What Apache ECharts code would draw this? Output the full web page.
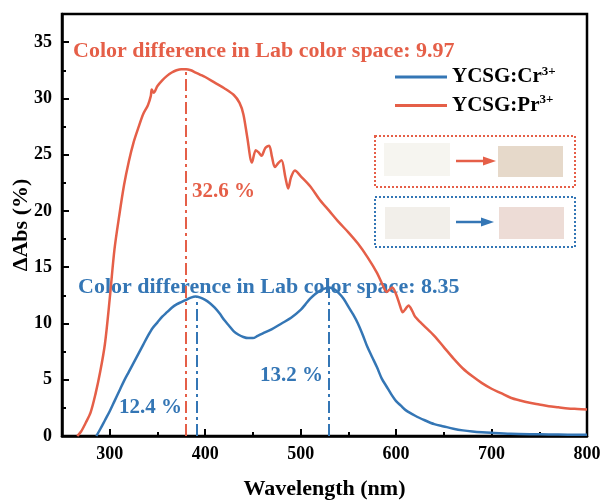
<!DOCTYPE html>
<html><head><meta charset="utf-8">
<script src="https://cdn.jsdelivr.net/npm/echarts@6/dist/echarts.min.js"></script>
<style>html,body{margin:0;padding:0;background:#fff}#c{width:603px;height:503px}</style>
</head><body><div id="c"></div>
<script>
// ---- data ----
const prWavelength = [266,270,275,280,285,290,295,300,305,310,315,320,325,330,335,340,343,344,346,350,355,360,365,370,375,380,385,390,395,400,410,420,430,436,440,444,449,453,456,459,463,467,470,473,477,480,484,487,490,494,500,510,520,530,540,550,560,570,580,586,590,593,596,600,604,607,610,613,617,620,628,640,650,660,670,680,690,700,710,720,730,740,750,760,770,780,790,800];
const prDeltaAbs   = [0,0.4,1.2,2.1,3.7,5.7,8.2,12.2,16.6,19.6,22.3,24.4,26.1,27.4,28.6,29.4,30.2,30.8,30.5,31.1,31.6,32.0,32.3,32.5,32.6,32.6,32.5,32.3,32.1,31.9,31.4,30.9,30.3,29.6,28.6,26.6,24.3,25.4,25.2,24.9,25.6,25.8,24.8,23.9,24.3,24.5,23.0,22.0,23.0,23.6,23.1,22.2,21.0,20.0,19.0,18.1,17.1,15.9,14.5,13.4,12.8,13.0,13.2,12.6,11.6,11.0,11.3,11.6,11.1,10.6,9.9,8.9,7.9,6.9,6.0,5.3,4.7,4.2,3.8,3.4,3.15,2.95,2.8,2.65,2.55,2.45,2.4,2.35];
const crWavelength = [286,290,295,300,305,310,315,320,325,330,335,340,345,350,355,360,365,370,375,380,385,390,395,400,405,410,415,420,425,430,435,440,445,450,455,460,470,480,490,500,505,510,515,520,525,530,535,540,545,550,555,560,565,570,575,580,585,590,595,600,605,610,620,630,640,650,660,670,680,690,700,720,740,760,780,800];
const crDeltaAbs   = [0,0.6,1.4,2.2,3.1,4.0,4.9,5.7,6.5,7.3,8.1,8.9,9.6,10.1,10.6,11.0,11.4,11.7,11.9,12.1,12.3,12.4,12.3,12.1,11.8,11.4,10.9,10.3,9.8,9.3,9.0,8.8,8.7,8.7,8.9,9.1,9.5,10.0,10.5,11.2,11.7,12.2,12.6,12.9,13.1,13.2,13.05,12.7,12.2,11.5,10.8,10.0,9.0,7.9,7.0,6.1,5.1,4.4,3.7,3.1,2.7,2.3,1.8,1.4,1.05,0.85,0.65,0.5,0.4,0.33,0.28,0.2,0.16,0.14,0.12,0.1];
const xTickValues = [300,400,500,600,700,800];
const xMinorTicks = [250,350,450,550,650,750];
const yTickValues = [0,5,10,15,20,25,30,35];
const yMinorTicks = [2.5,7.5,12.5,17.5,22.5,27.5,32.5];
const seriesNames = ['YCSG:Cr3+','YCSG:Pr3+'];
const prPeak = [380, 32.6];
const crPeak1 = [391, 12.4];
const crPeak2 = [529, 13.2];
const peakTexts = ['32.6 %','12.4 %','13.2 %'];
const headerPr = 'Color difference in Lab color space: 9.97';
const headerCr = 'Color difference in Lab color space: 8.35';

// ---- style ----
const FONT = "'Liberation Serif','Times New Roman',serif";
const RED = '#e55f48';
const BLUE = '#3476b5';

const zip = (a,b) => a.map((v,i)=>[v,b[i]]);
const chart = echarts.init(document.getElementById('c'), null, {renderer:'canvas'});

const GL = 62, GR = 16, GT = 14, GB = 67;
const GW = 603 - GL - GR, GH = 503 - GT - GB;

const dashStyle = (c) => ({color:c, width:2, type:[12,4,3,4]});
function txt(x,y,t,c,size){
  return {type:'text', left:x, top:y, silent:true,
    style:{text:t, fill:c, font:`bold ${size}px ${FONT}`, textVerticalAlign:'middle', verticalAlign:'middle'}};
}
function box(x,y,w,h,c){
  return {type:'rect', shape:{x:x,y:y,width:w,height:h}, silent:true,
    style:{fill:'none', stroke:c, lineWidth:2, lineDash:[2,2]}};
}
function swatch(x,y,w,h,c){
  return {type:'rect', shape:{x:x,y:y,width:w,height:h}, silent:true, style:{fill:c}};
}
function arrow(x1,x2,y,c){
  return [
    {type:'line', shape:{x1:x1,y1:y,x2:x2-10,y2:y}, silent:true, style:{stroke:c, lineWidth:2.5}},
    {type:'polygon', shape:{points:[[x2-13,y-4.5],[x2,y],[x2-13,y+4.5]]}, silent:true, style:{fill:c}}
  ];
}

const labelStyle = {fontFamily:FONT, fontWeight:'bold', fontSize:18, color:'#000'};

const option = {
  animation:false,
  backgroundColor:'#fff',
  grid:{left:GL, right:GR, top:GT, bottom:GB, show:true, borderColor:'#000', borderWidth:2.5,
        backgroundColor:'transparent', outerBoundsMode:'none', containLabel:false},
  legend:{
    orient:'vertical', left:390, top:60, itemWidth:52, itemHeight:3, itemGap:6, icon:'rect',
    data:seriesNames,
    formatter:(n)=>'{b|'+n.replace('3+','')+'}{s|3+}',
    textStyle:{fontFamily:FONT, fontWeight:'bold', fontSize:21, color:'#000',
      rich:{
        b:{fontFamily:FONT, fontWeight:'bold', fontSize:21, color:'#000', lineHeight:24},
        s:{fontFamily:FONT, fontWeight:'bold', fontSize:13, color:'#000', verticalAlign:'top', lineHeight:16}
      }}
  },
  xAxis:[
    {type:'value', min:250, max:800, position:'bottom',
     axisLine:{show:true, onZero:false, lineStyle:{color:'#000', width:2.5}},
     axisTick:{show:true, inside:true, length:7, customValues:xTickValues, lineStyle:{color:'#000', width:2}},
     axisLabel:Object.assign({customValues:xTickValues, margin:9}, labelStyle),
     splitLine:{show:false},
     name:'Wavelength (nm)', nameLocation:'middle', nameGap:42, nameMoveOverlap:false,
     nameTextStyle:{fontFamily:FONT, fontWeight:'bold', fontSize:22, color:'#000'}},
    {type:'value', min:250, max:800, position:'top', offset:-GH,
     axisLine:{show:false},
     axisTick:{show:true, inside:false, length:4, customValues:xMinorTicks, lineStyle:{color:'#000', width:2}},
     axisLabel:{show:false}, splitLine:{show:false}}
  ],
  yAxis:[
    {type:'value', min:0, max:37.5, position:'left',
     axisLine:{show:true, onZero:false, lineStyle:{color:'#000', width:2.5}},
     axisTick:{show:true, inside:true, length:7, customValues:yTickValues, lineStyle:{color:'#000', width:2}},
     axisLabel:Object.assign({customValues:yTickValues, margin:10}, labelStyle),
     splitLine:{show:false},
     name:'ΔAbs (%)', nameLocation:'middle', nameGap:30, nameRotate:90, nameMoveOverlap:false,
     nameTextStyle:{fontFamily:FONT, fontWeight:'bold', fontSize:22, color:'#000'}},
    {type:'value', min:0, max:37.5, position:'right', offset:-GW,
     axisLine:{show:false},
     axisTick:{show:true, inside:false, length:4, customValues:yMinorTicks, lineStyle:{color:'#000', width:2}},
     axisLabel:{show:false}, splitLine:{show:false}}
  ],
  series:[
    {name:seriesNames[0], type:'line', data:zip(crWavelength, crDeltaAbs), showSymbol:false, symbol:'none',
     smooth:0.3, color:BLUE, lineStyle:{width:2.5, color:BLUE}, z:3,
     markLine:{silent:true, symbol:'none', label:{show:false}, lineStyle:dashStyle(BLUE),
       data:[[{coord:[crPeak1[0],0]},{coord:crPeak1}], [{coord:[crPeak2[0],0]},{coord:crPeak2}]]}},
    {name:seriesNames[1], type:'line', data:zip(prWavelength, prDeltaAbs), showSymbol:false, symbol:'none',
     smooth:0.3, color:RED, lineStyle:{width:2.5, color:RED}, z:4,
     markLine:{silent:true, symbol:'none', label:{show:false}, lineStyle:dashStyle(RED),
       data:[[{coord:[prPeak[0],0]},{coord:prPeak}]]}}
  ],
  graphic:[
    txt(73, 40, headerPr, RED, 22),
    txt(78, 276, headerCr, BLUE, 22),
    txt(192, 181, peakTexts[0], RED, 21),
    txt(119, 397, peakTexts[1], BLUE, 21),
    txt(260, 365, peakTexts[2], BLUE, 21),
    box(375,136,200,51,RED),
    box(375,197,200,50,BLUE),
    swatch(384,143,66,33,'#f6f5f0'),
    swatch(498,146,65,31,'#e6d9ca'),
    swatch(385,207,65,32,'#f2efea'),
    swatch(499,207,65,32,'#eddcd6'),
    ...arrow(456,496,161,RED),
    ...arrow(456,494,222,BLUE)
  ]
};
chart.setOption(option);
</script>
</body></html>
